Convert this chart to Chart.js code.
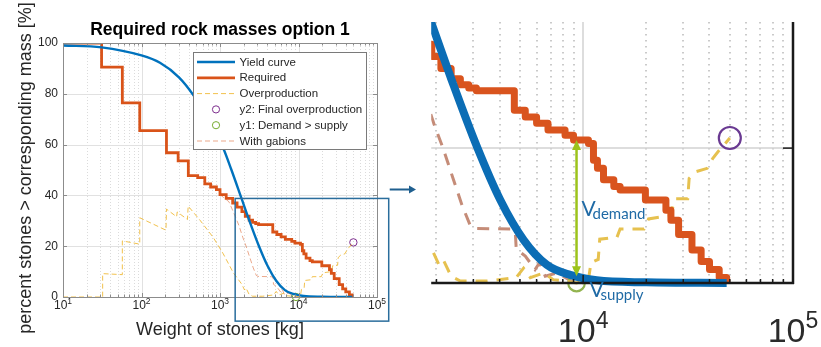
<!DOCTYPE html>
<html>
<head>
<meta charset="utf-8">
<script src="https://cdn.jsdelivr.net/npm/chart.js@4.4.1/dist/chart.umd.min.js"></script>
<style>
  html, body { margin: 0; padding: 0; background: #fff; }
  #wrap { position: relative; width: 821px; height: 347px; overflow: hidden; }
  canvas { position: absolute; top: 0; }
  #mainChart { left: 0; }
  #zoomChart { left: 418px; }
</style>
</head>
<body>
<div id="wrap">
  <canvas id="mainChart" width="418" height="347"></canvas>
  <canvas id="zoomChart" width="403" height="347"></canvas>
</div>
<script>
// stone mass [kg] vs percent of stones heavier than that mass
const yieldMass = [10, 31, 100, 172, 300, 455, 600, 800, 1100, 1400, 1885, 2415, 3120, 4030, 5200, 6710, 8670, 11600, 20000, 48300];
const yieldPct  = [99.0, 98.3, 95.1, 92.2, 86.5, 79.6, 73.5, 66.6, 58.6, 50.0, 38.7, 29.3, 20.2, 12.3, 6.4, 2.7, 1.2, 0.4, 0.1, 0];

// required curve, each level holds from its mass up to the next one
const reqMass = [10, 31, 57, 95, 208, 293, 395, 520, 640, 760, 900, 1000, 1200, 1450, 1650, 1900, 2100, 2350, 2600, 2850, 3100,
                 4700, 5300, 6000, 6800, 8200, 9000, 10600, 11200, 11700, 12500, 14000, 15000, 19800, 24800, 26200, 28500,
                 33000, 36500, 40000, 44500, 48300];
const reqPct  = [100, 90.5, 76.4, 65.5, 56.8, 53.6, 47.8, 47.0, 44.5, 43.3, 42.3, 40.3, 38.8, 37.0, 35.4, 33.6, 31.8, 30.3, 29.4, 28.9, 28.5,
                 25.6, 24.6, 23.7, 22.7, 21.9, 21.2, 20.7, 18.2, 17.0, 15.3, 14.3, 13.8, 12.3, 10.8, 9.3, 7.2,
                 4.9, 3.2, 2.0, 0.8, 0];

const overMass = [10, 32, 32, 57, 57, 95, 95, 205, 208, 280, 285, 385, 393, 554, 818, 1100, 1480, 1900, 2050, 2150, 2350, 2600,
                  3500, 4800, 5200, 5600, 6500, 7200, 8200, 9300, 10600, 10900, 11800, 12000, 14500, 15000, 19500, 20500,
                  26000, 27500, 31500, 32000, 34500, 39000, 41500, 44000, 47000, 50000];
const overPct  = [0, 0, 9.2, 8.8, 22.1, 20.8, 31.2, 26.3, 34.6, 31.6, 33.5, 30.5, 35.8, 30.3, 23.5, 17.0, 9.5, 5.0, 2.8, 3.5, 1.0, 0.3,
                  0.3, 0.8, 2.2, 0.8, 1.5, 0.5, 0.3, 0, 0.5, 3.0, 3.5, 6.5, 6.8, 8.0, 8.0, 9.5,
                  10.0, 12.5, 12.5, 15.5, 16.5, 17.0, 18.5, 19.5, 20.5, 21.5];

const gabMass = [1000, 1300, 1550, 1750, 1950, 2150, 2400, 2650, 2900, 3050, 4500, 4750, 4800, 5300, 5900, 6200, 6600, 7500, 8800, 10000];
const gabPct  = [40.3, 37.5, 32.0, 28.0, 23.5, 20.0, 15.5, 11.5, 8.5, 8.1, 8.0, 7.6, 5.0, 4.0, 2.0, 3.0, 1.0, 1.5, 0.3, 0];

const y2Mass = [50000], y2Pct = [21.5];   // final overproduction
const y1Mass = [9300],  y1Pct = [0];      // demand > supply

const xTickExp = [1, 2, 3, 4, 5];
const yTicks = [0, 20, 40, 60, 80, 100];
const zoomTickExp = [4, 5];
const zoomYTicks = [20];

const font = '"Liberation Sans", Arial, sans-serif';
const textGray = '#262626';
const axisGray = '#8c8c8c';

function xy(xs, ys) { return xs.map((x, i) => ({ x: x, y: ys[i] })); }

function line(ctx, x1, y1, x2, y2) {
  ctx.beginPath(); ctx.moveTo(x1, y1); ctx.lineTo(x2, y2); ctx.stroke();
}

// 2..9 x 10^k between lo and hi
function minorValues(lo, hi) {
  const out = [];
  for (let e = Math.floor(Math.log10(lo)); e < Math.ceil(Math.log10(hi)); e++) {
    for (let m = 2; m <= 9; m++) {
      const v = m * Math.pow(10, e);
      if (v > lo && v < hi) out.push(v);
    }
  }
  return out;
}

// "10" with a raised exponent, centred on cx
function drawPow10(ctx, exp, cx, baseY, size, supSize, rise) {
  ctx.font = size + 'px ' + font;
  const wBase = ctx.measureText('10').width;
  ctx.font = supSize + 'px ' + font;
  const wExp = ctx.measureText(String(exp)).width;
  const x0 = cx - (wBase + wExp) / 2;
  ctx.textAlign = 'left';
  ctx.textBaseline = 'alphabetic';
  ctx.font = size + 'px ' + font;
  ctx.fillText('10', x0, baseY);
  ctx.font = supSize + 'px ' + font;
  ctx.fillText(String(exp), x0 + wBase, baseY - rise);
}

function stepValue(xs, ys, x) {
  let v = ys[0];
  for (let i = 0; i < xs.length; i++) if (xs[i] <= x) v = ys[i];
  return v;
}

function logInterp(xs, ys, x) {
  for (let i = 1; i < xs.length; i++) {
    if (x <= xs[i]) {
      const t = (Math.log10(x) - Math.log10(xs[i - 1])) / (Math.log10(xs[i]) - Math.log10(xs[i - 1]));
      return ys[i - 1] + t * (ys[i] - ys[i - 1]);
    }
  }
  return ys[ys.length - 1];
}

function makeDatasets(s) {
  return [
    { label: 'Yield curve', data: xy(yieldMass, yieldPct), borderColor: s.blue, borderWidth: s.wBlue,
      cubicInterpolationMode: 'monotone', pointRadius: 0, clip: s.clip, borderJoinStyle: 'round' },
    { label: 'Required', data: xy(reqMass, reqPct), borderColor: s.orange, borderWidth: s.wOrange,
      stepped: 'before', pointRadius: 0, clip: s.clip, borderJoinStyle: s.join },
    { label: 'Overproduction', data: xy(overMass, overPct), borderColor: s.yellow, borderWidth: s.wDash,
      borderDash: s.dash, pointRadius: 0, clip: s.clip },
    { label: 'y2: Final overproduction', data: xy(y2Mass, y2Pct), showLine: false, pointStyle: 'circle',
      pointRadius: s.r2, pointBorderWidth: s.wMark, pointBorderColor: s.purple, pointBackgroundColor: 'rgba(0,0,0,0)', clip: false },
    { label: 'y1: Demand > supply', data: xy(y1Mass, y1Pct), showLine: false, pointStyle: 'circle',
      pointRadius: s.r1, pointBorderWidth: s.wMark, pointBorderColor: s.green, pointBackgroundColor: 'rgba(0,0,0,0)', clip: false },
    { label: 'With gabions', data: xy(gabMass, gabPct), borderColor: s.brown, borderWidth: s.wDash,
      borderDash: s.dash, pointRadius: 0, clip: s.clip }
  ];
}

const mainFrame = {
  id: 'mainFrame',
  beforeDatasetsDraw(chart) {
    const { ctx, chartArea: a, scales: { x, y } } = chart;
    ctx.save();
    ctx.lineWidth = 1;
    ctx.setLineDash([1, 2]);
    ctx.strokeStyle = 'rgba(0,0,0,0.14)';
    minorValues(x.min, x.max).forEach(v => {
      const px = Math.round(x.getPixelForValue(v)) + 0.5;
      line(ctx, px, a.top, px, a.bottom);
    });
    ctx.setLineDash([]);
    ctx.strokeStyle = '#e1e1e1';
    xTickExp.forEach(e => {
      const px = Math.round(x.getPixelForValue(Math.pow(10, e))) + 0.5;
      line(ctx, px, a.top, px, a.bottom);
    });
    yTicks.forEach(v => {
      const py = Math.round(y.getPixelForValue(v)) + 0.5;
      line(ctx, a.left, py, a.right, py);
    });
    ctx.restore();
  },
  afterDatasetsDraw(chart) {
    const { ctx, chartArea: a, scales: { x, y } } = chart;
    ctx.save();

    // axes box with inward ticks
    ctx.strokeStyle = axisGray;
    ctx.lineWidth = 1;
    ctx.strokeRect(Math.round(a.left) + 0.5, Math.round(a.top) + 0.5, Math.round(a.right - a.left), Math.round(a.bottom - a.top));
    minorValues(x.min, x.max).forEach(v => {
      const px = Math.round(x.getPixelForValue(v)) + 0.5;
      line(ctx, px, a.bottom, px, a.bottom - 2.5);
      line(ctx, px, a.top, px, a.top + 2.5);
    });
    xTickExp.forEach(e => {
      const px = Math.round(x.getPixelForValue(Math.pow(10, e))) + 0.5;
      line(ctx, px, a.bottom, px, a.bottom - 4);
      line(ctx, px, a.top, px, a.top + 4);
    });
    yTicks.forEach(v => {
      const py = Math.round(y.getPixelForValue(v)) + 0.5;
      line(ctx, a.left, py, a.left + 4, py);
      line(ctx, a.right, py, a.right - 4, py);
    });

    // tick labels
    ctx.fillStyle = textGray;
    ctx.font = '12px ' + font;
    ctx.textAlign = 'right';
    ctx.textBaseline = 'middle';
    yTicks.forEach(v => ctx.fillText(String(v), a.left - 5, y.getPixelForValue(v)));
    xTickExp.forEach(e => drawPow10(ctx, e, x.getPixelForValue(Math.pow(10, e)), 309, 12, 8.5, 5.5));

    // titles
    ctx.fillStyle = '#000';
    ctx.font = 'bold 17.5px ' + font;
    ctx.textAlign = 'center';
    ctx.textBaseline = 'alphabetic';
    ctx.fillText('Required rock masses option 1', (a.left + a.right) / 2, 35);
    ctx.fillStyle = textGray;
    ctx.font = '18px ' + font;
    ctx.fillText('Weight of stones [kg]', (a.left + a.right) / 2, 335);
    ctx.save();
    ctx.translate(31, 168);
    ctx.rotate(-Math.PI / 2);
    ctx.fillText('percent stones > corresponding mass [%]', 0, 0);
    ctx.restore();

    // legend
    const lx = 193.5, ly = 52.5, lw = 173, lh = 97;
    ctx.fillStyle = '#fff';
    ctx.fillRect(lx, ly, lw, lh);
    ctx.strokeStyle = '#7a7a7a';
    ctx.lineWidth = 1;
    ctx.strokeRect(lx, ly, lw, lh);
    chart.data.datasets.forEach((ds, i) => {
      const ry = 62 + i * 15.8;
      ctx.save();
      if (ds.showLine === false) {
        ctx.strokeStyle = ds.pointBorderColor;
        ctx.lineWidth = 1;
        ctx.beginPath();
        ctx.arc(216, ry, 3.6, 0, Math.PI * 2);
        ctx.stroke();
      } else {
        ctx.strokeStyle = ds.borderColor;
        ctx.lineWidth = ds.borderWidth;
        ctx.setLineDash(ds.borderDash || []);
        line(ctx, 197, ry, 235, ry);
      }
      ctx.restore();
      ctx.fillStyle = textGray;
      ctx.font = '11.5px ' + font;
      ctx.textAlign = 'left';
      ctx.textBaseline = 'middle';
      ctx.fillText(ds.label, 239.5, ry + 0.5);
    });

    // zoom window and pointer to the enlarged view
    const bx1 = x.getPixelForValue(1560), bx2 = x.getPixelForValue(141000);
    const by1 = y.getPixelForValue(38.8), by2 = y.getPixelForValue(-9.5);
    ctx.strokeStyle = '#2a6d9c';
    ctx.lineWidth = 1.5;
    ctx.strokeRect(bx1, by1, bx2 - bx1, by2 - by1);
    ctx.strokeStyle = '#1f5f8f';
    ctx.fillStyle = '#1f5f8f';
    ctx.lineWidth = 2;
    line(ctx, bx2 + 1, 189.5, 410, 189.5);
    ctx.beginPath();
    ctx.moveTo(416, 189.5); ctx.lineTo(409, 185.5); ctx.lineTo(409, 193.5); ctx.closePath();
    ctx.fill();
    ctx.restore();
  }
};

const zoomFrame = {
  id: 'zoomFrame',
  beforeDatasetsDraw(chart) {
    const { ctx, chartArea: a, scales: { x, y } } = chart;
    ctx.save();
    ctx.lineWidth = 1.5;
    ctx.setLineDash([1.5, 4.5]);
    ctx.strokeStyle = 'rgba(0,0,0,0.28)';
    minorValues(x.min, x.max).forEach(v => {
      const px = Math.round(x.getPixelForValue(v));
      line(ctx, px, a.top, px, a.bottom);
    });
    ctx.setLineDash([]);
    ctx.strokeStyle = '#d2d2d2';
    zoomTickExp.forEach(e => {
      const px = Math.round(x.getPixelForValue(Math.pow(10, e)));
      line(ctx, px, a.top, px, a.bottom);
    });
    zoomYTicks.forEach(v => {
      const py = Math.round(y.getPixelForValue(v));
      line(ctx, a.left, py, a.right, py);
    });
    ctx.restore();
  },
  afterDatasetsDraw(chart) {
    const { ctx, chartArea: a, scales: { x, y } } = chart;
    ctx.save();

    // bottom and right axis lines
    ctx.strokeStyle = '#1a1a1a';
    ctx.lineWidth = 2.5;
    line(ctx, a.left, a.bottom, a.right + 1, a.bottom);
    line(ctx, a.right, a.top, a.right, a.bottom + 1);
    ctx.lineWidth = 1.5;
    minorValues(x.min, x.max).forEach(v => {
      const px = x.getPixelForValue(v);
      line(ctx, px, a.bottom, px, a.bottom - 4);
    });
    zoomTickExp.forEach(e => {
      const px = x.getPixelForValue(Math.pow(10, e));
      line(ctx, px, a.bottom, px, a.bottom - 8);
    });
    zoomYTicks.forEach(v => {
      const py = y.getPixelForValue(v);
      line(ctx, a.right, py, a.right - 10, py);
    });

    ctx.fillStyle = '#2b2b2b';
    zoomTickExp.forEach(e => drawPow10(ctx, e, x.getPixelForValue(Math.pow(10, e)), 342, 34, 23, 14));

    // demand / supply arrow at the y1 mass
    const mx = y1Mass[0];
    const ax = x.getPixelForValue(mx);
    const top = y.getPixelForValue(stepValue(reqMass, reqPct, mx));
    const bot = y.getPixelForValue(logInterp(yieldMass, yieldPct, mx));
    ctx.strokeStyle = '#9cc31b';
    ctx.fillStyle = '#9cc31b';
    ctx.lineWidth = 2.5;
    line(ctx, ax, top + 8, ax, bot - 8);
    ctx.beginPath();
    ctx.moveTo(ax, top); ctx.lineTo(ax - 4.5, top + 10); ctx.lineTo(ax + 4.5, top + 10); ctx.closePath();
    ctx.fill();
    ctx.beginPath();
    ctx.moveTo(ax, bot); ctx.lineTo(ax - 4.5, bot - 10); ctx.lineTo(ax + 4.5, bot - 10); ctx.closePath();
    ctx.fill();

    ctx.fillStyle = '#1f6aa5';
    ctx.textAlign = 'left';
    ctx.textBaseline = 'alphabetic';
    ctx.font = '21px Lato, "Open Sans", sans-serif';
    ctx.fillText('V', ax + 5, y.getPixelForValue(10));
    ctx.font = '15px Lato, "Open Sans", sans-serif';
    ctx.fillText('demand', ax + 16, y.getPixelForValue(10) + 3.5);
    ctx.font = '21px Lato, "Open Sans", sans-serif';
    ctx.fillText('V', ax + 13, a.bottom + 14);
    ctx.font = '15px Lato, "Open Sans", sans-serif';
    ctx.fillText('supply', ax + 24, a.bottom + 17);
    ctx.restore();
  }
};

function baseOptions(xMin, xMax, yMax, padding) {
  return {
    responsive: false,
    devicePixelRatio: 1,
    animation: false,
    layout: { padding: padding },
    plugins: { legend: { display: false }, tooltip: { enabled: false } },
    scales: {
      x: { type: 'logarithmic', min: xMin, max: xMax, display: false },
      y: { type: 'linear', min: 0, max: yMax, display: false }
    }
  };
}

new Chart(document.getElementById('mainChart'), {
  type: 'line',
  data: {
    datasets: makeDatasets({
      blue: '#0072BD', orange: '#D95319', yellow: 'rgba(237,177,32,0.8)', brown: 'rgba(217,83,25,0.5)',
      purple: '#7E2F8E', green: '#77AC30', wBlue: 2.4, wOrange: 2.8, wDash: 1, dash: [5, 3],
      r1: 3.7, r2: 3.7, wMark: 1, clip: undefined, join: 'miter'
    })
  },
  options: baseOptions(10, 100000, 100, { left: 63, right: 41, top: 43, bottom: 50 }),
  plugins: [mainFrame]
});

new Chart(document.getElementById('zoomChart'), {
  type: 'line',
  data: {
    datasets: makeDatasets({
      blue: '#0b6db5', orange: '#d9541e', yellow: '#e6c14f', brown: '#c58c78',
      purple: '#6a3a92', green: '#93b450', wBlue: 8, wOrange: 7, wDash: 3, dash: [12, 9],
      r1: 8.3, r2: 11, wMark: 2.2, clip: { left: 0, top: 0, right: 10, bottom: 10 }, join: 'round'
    })
  },
  options: baseOptions(1888, 100000, 38.7, { left: 13, right: 28, top: 22, bottom: 64 }),
  plugins: [zoomFrame]
});
</script>
</body>
</html>
